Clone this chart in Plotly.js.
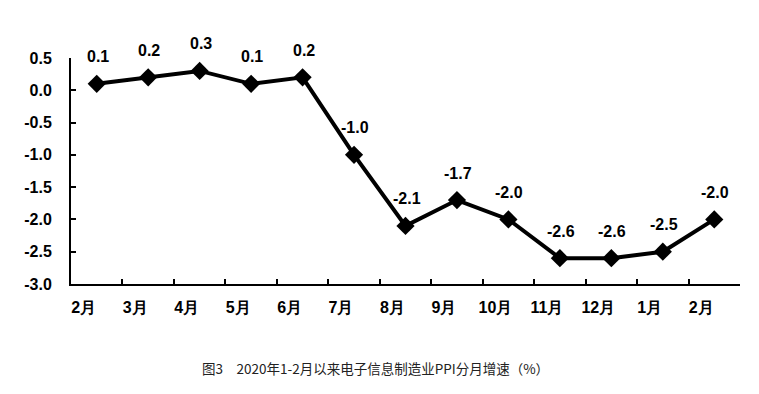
<!DOCTYPE html>
<html>
<head>
<meta charset="utf-8">
<script src="https://cdn.plot.ly/plotly-3.0.1.min.js"></script>
<style>html,body{margin:0;padding:0;background:#fff;}#chart{width:759px;height:394px;}</style>
</head>
<body>
<div id="chart"></div>
<script>
const months = ["2月","3月","4月","5月","6月","7月","8月","9月","10月","11月","12月","1月","2月"];
const categories = ["2020-02","2020-03","2020-04","2020-05","2020-06","2020-07","2020-08","2020-09","2020-10","2020-11","2020-12","2021-01","2021-02"];
const ppi = [0.1, 0.2, 0.3, 0.1, 0.2, -1.0, -2.1, -1.7, -2.0, -2.6, -2.6, -2.5, -2.0];
const yTicks = [0.5, 0.0, -0.5, -1.0, -1.5, -2.0, -2.5, -3.0];
const titleText = "图3　2020年1-2月以来电子信息制造业PPI分月增速（%）";

const boldFont = {family: "Arial, Liberation Sans", size: 16, color: "#000", weight: "bold"};

const trace = {
  type: "scatter",
  mode: "lines+markers",
  x: categories,
  y: ppi,
  line: {color: "#000", width: 4},
  marker: {symbol: "diamond", size: 14, color: "#000"},
  cliponaxis: false,
  hoverinfo: "none"
};

const labelAnns = categories.map((c, i) => ({
  x: c, y: ppi[i], xref: "x", yref: "y",
  text: ppi[i].toFixed(1),
  showarrow: false, yshift: 27, xshift: 1,
  font: boldFont
}));

const layout = {
  width: 759, height: 394,
  margin: {l: 71, r: 19, t: 58, b: 110},
  paper_bgcolor: "#fff", plot_bgcolor: "#fff",
  showlegend: false,
  font: {family: "Arial, Liberation Sans", size: 16, color: "#000"},
  xaxis: {
    type: "category",
    tickmode: "array",
    tickvals: categories,
    ticktext: months,
    tickson: "boundaries",
    ticks: "inside", ticklen: 5, tickwidth: 2, tickcolor: "#000",
    showline: true, linecolor: "#000", linewidth: 2,
    showgrid: false, zeroline: false,
    tickfont: boldFont,
    ticklabelshift: -13,
    ticklabelstandoff: 8,
    range: [-0.5, 12.5]
  },
  yaxis: {
    range: [-3.0, 0.5],
    tickmode: "array",
    tickvals: yTicks,
    ticktext: yTicks.map(v => v.toFixed(1)),
    ticks: "inside", ticklen: 5, tickwidth: 2, tickcolor: "#000",
    showline: true, linecolor: "#000", linewidth: 2,
    showgrid: false, zeroline: false,
    tickfont: boldFont,
    ticklabelstandoff: 14
  },
  annotations: labelAnns.concat([{
    text: titleText,
    xref: "paper", yref: "paper",
    x: 0.455, y: -0.37, xanchor: "center", yanchor: "middle",
    showarrow: false,
    font: {family: "Noto Sans CJK SC", size: 13.5, color: "#222"}
  }])
};

Plotly.newPlot("chart", [trace], layout, {staticPlot: true, displayModeBar: false});
</script>
</body>
</html>
